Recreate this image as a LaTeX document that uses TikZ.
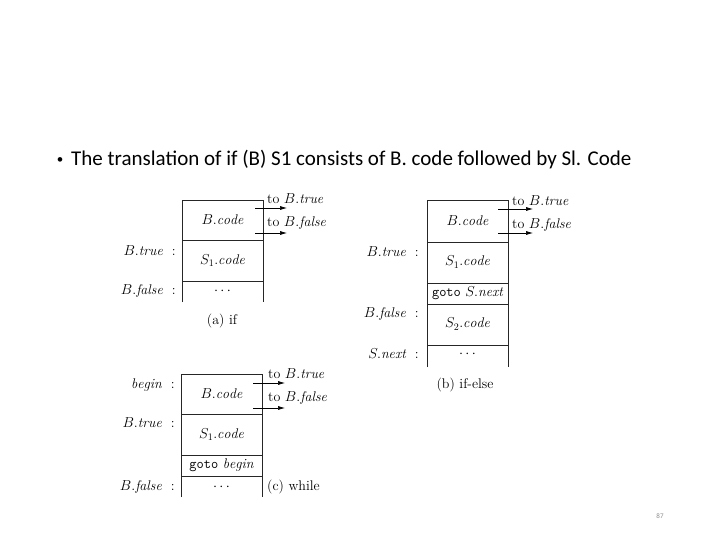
\documentclass[tikz,border=0pt]{standalone}
\usepackage{fontspec}
\newfontfamily\titlefont{Carlito}
\usetikzlibrary{arrows.meta}
\begin{document}
\begin{tikzpicture}[x=1pt,y=-1pt,
  lbl/.style={anchor=east,inner sep=0pt,font=\fontsize{14}{16}\selectfont},
  cell/.style={inner sep=0pt,font=\fontsize{14}{16}\selectfont},
  totext/.style={anchor=west,inner sep=0pt,font=\fontsize{14}{16}\selectfont},
  captext/.style={inner sep=0pt,font=\fontsize{14}{16}\selectfont},
  box/.style={line width=0.8pt,draw=black!85},
  arr/.style={-{Latex[length=7pt,width=4pt]},line width=0.6pt}]
\useasboundingbox[fill=white] (0,0) rectangle (720,540);
% title
\node[inner sep=0pt,font=\titlefont\fontsize{13}{15}\selectfont] (bullet) at (60,161) {\textbullet};
\node[anchor=west,inner sep=0pt,font=\titlefont\fontsize{21}{24}\selectfont] (title) at (71,160)
  {The translation of if (B) S1 consists of B. code followed by Sl. Code};
\node[inner sep=0pt,font=\titlefont\fontsize{7}{8}\selectfont,text=black!45] (pnum) at (660,516) {87};

% ---------- (a) if ----------
\draw[box] (182,302) -- (182,200) -- (263,200) -- (263,302);
\draw[box] (182,240) -- (263,240);
\draw[box] (182,281) -- (263,281);
\node[cell] (a1) at (222.5,220) {$B.\mathit{code}$};
\node[cell] (a2) at (222.5,260.5) {$S_1.\mathit{code}$};
\node[cell] (a3) at (222.5,291) {$\cdots$};
\node[lbl] (al1) at (176,251) {$B.\mathit{true}$\ \ :};
\node[lbl] (al2) at (176,291) {$B.\mathit{false}$\ \ :};
\coordinate (aa1s) at (255,208); \coordinate (aa1e) at (287,208);
\coordinate (aa2s) at (255,233); \coordinate (aa2e) at (287,233);
\draw[arr] (aa1s) -- (aa1e);
\draw[arr] (aa2s) -- (aa2e);
\node[totext] (at1) at (267,199) {to $B.\mathit{true}$};
\node[totext] (at2) at (267,223) {to $B.\mathit{false}$};
\node[captext] (acap) at (222,321) {(a) if};

% ---------- (b) if-else ----------
\draw[box] (427,367) -- (427,200) -- (508,200) -- (508,367);
\draw[box] (427,242) -- (508,242);
\draw[box] (427,283) -- (508,283);
\draw[box] (427,304) -- (508,304);
\draw[box] (427,345) -- (508,345);
\node[cell] (b1) at (467.5,221) {$B.\mathit{code}$};
\node[cell] (b2) at (467.5,262) {$S_1.\mathit{code}$};
\node[cell] (b3) at (467.5,293.5) {\texttt{goto} $S.\mathit{next}$};
\node[cell] (b4) at (467.5,324) {$S_2.\mathit{code}$};
\node[cell] (b5) at (467.5,354) {$\cdots$};
\node[lbl] (bl1) at (419,252) {$B.\mathit{true}$\ \ :};
\node[lbl] (bl2) at (419,314) {$B.\mathit{false}$\ \ :};
\node[lbl] (bl3) at (419,354) {$S.\mathit{next}$\ \ :};
\coordinate (ba1s) at (498,209); \coordinate (ba1e) at (533,209);
\coordinate (ba2s) at (498,233); \coordinate (ba2e) at (533,233);
\draw[arr] (ba1s) -- (ba1e);
\draw[arr] (ba2s) -- (ba2e);
\node[totext] (bt1) at (512,201) {to $B.\mathit{true}$};
\node[totext] (bt2) at (512,225) {to $B.\mathit{false}$};
\node[captext] (bcap) at (465,385) {(b) if-else};

% ---------- (c) while ----------
\draw[box] (181,497) -- (181,374) -- (262,374) -- (262,497);
\draw[box] (181,414) -- (262,414);
\draw[box] (181,455) -- (262,455);
\draw[box] (181,476) -- (262,476);
\node[cell] (c1) at (221.5,394) {$B.\mathit{code}$};
\node[cell] (c2) at (221.5,434.5) {$S_1.\mathit{code}$};
\node[cell] (c3) at (221.5,465.5) {\texttt{goto} $\mathit{begin}$};
\node[cell] (c4) at (221.5,487) {$\cdots$};
\node[lbl] (cl1) at (175,385) {$\mathit{begin}$\ \ :};
\node[lbl] (cl2) at (175,423) {$B.\mathit{true}$\ \ :};
\node[lbl] (cl3) at (175,487) {$B.\mathit{false}$\ \ :};
\coordinate (ca1s) at (253,383); \coordinate (ca1e) at (285,383);
\coordinate (ca2s) at (253,408); \coordinate (ca2e) at (285,408);
\draw[arr] (ca1s) -- (ca1e);
\draw[arr] (ca2s) -- (ca2e);
\node[totext] (ct1) at (268,374) {to $B.\mathit{true}$};
\node[totext] (ct2) at (268,398) {to $B.\mathit{false}$};
\node[totext] (ccap) at (267,487) {(c) while};
\end{tikzpicture}
\end{document}
